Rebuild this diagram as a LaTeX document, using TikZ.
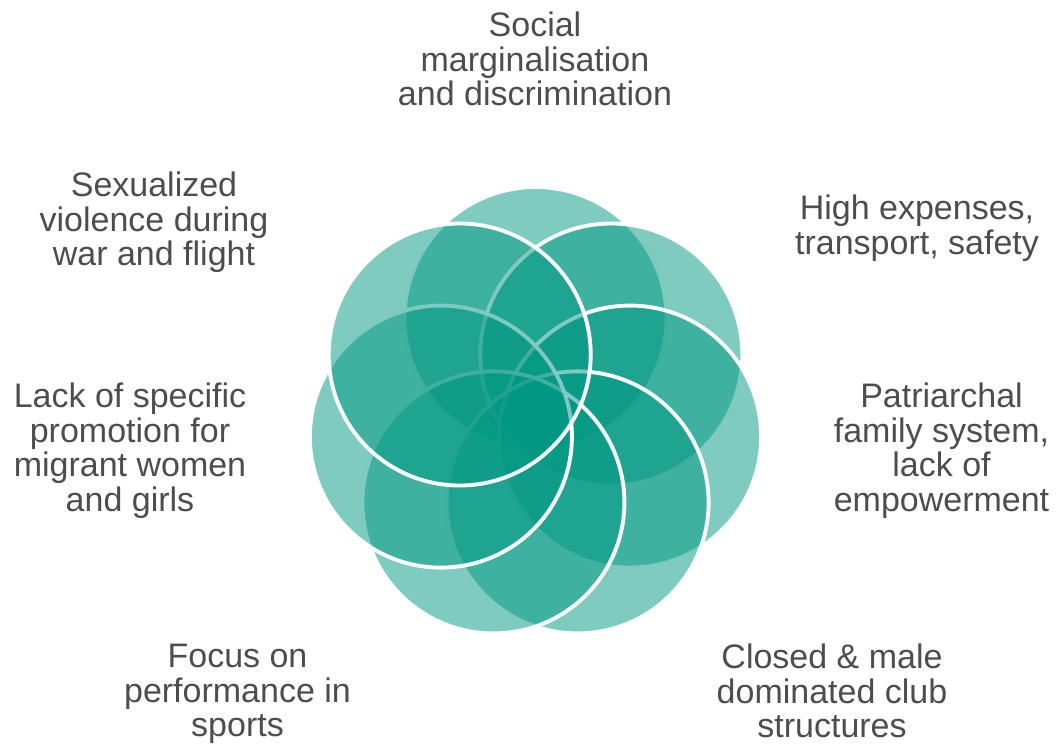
\documentclass[tikz,border=0pt]{standalone}
\usepackage{fontspec}
\setmainfont{Liberation Sans}
\definecolor{petalteal}{RGB}{0,151,130}
\definecolor{labelgray}{RGB}{77,77,77}
\tikzset{every picture/.style={line width=0.75pt}}
\tikzset{petal/.style={draw=white, line width=2.9pt, fill=petalteal, fill opacity=0.5, draw opacity=1},
  cause/.style={anchor=north, inner sep=0pt, align=center, text=labelgray, font=\fontsize{25.5}{26}\selectfont}}

\begin{document}
\begin{tikzpicture}[x=0.75pt,y=0.75pt,yscale=-1,xscale=1]
\useasboundingbox (0,0) rectangle (1056,748); %diagram is 1056 wide and 748 high

% Shape: Circle
\draw [petal] (535.5,318) circle [x radius= 131, y radius= 131]   ;
% Shape: Circle
\draw [petal] (611.3,354.5) circle [x radius= 131, y radius= 131]   ;
% Shape: Circle
\draw [petal] (630.1,436.6) circle [x radius= 131, y radius= 131]   ;
% Shape: Circle
\draw [petal] (577.6,502.4) circle [x radius= 131, y radius= 131]   ;
% Shape: Circle
\draw [petal] (493.4,502.4) circle [x radius= 131, y radius= 131]   ;
% Shape: Circle
\draw [petal] (440.9,436.6) circle [x radius= 131, y radius= 131]   ;
% Shape: Circle
\draw [petal] (459.7,354.5) circle [x radius= 131, y radius= 131]   ;

% Text Node
\node [cause] (social) at (535,11.5) {Social\\marginalisation\\and discrimination};
% Text Node
\node [cause] (expenses) at (917,194.5) {High expenses,\\transport, safety};
% Text Node
\node [cause] (patriarchal) at (941.5,382.5) {Patriarchal\\family system,\\lack of\\empowerment};
% Text Node
\node [cause] (closed) at (832,643.5) {Closed \& male\\dominated club\\structures};
% Text Node
\node [cause] (focus) at (237.5,643.5) {Focus on\\performance in\\sports};
% Text Node
\node [cause] (promotion) at (130,382.5) {Lack of specific\\promotion for\\migrant women\\and girls};
% Text Node
\node [cause] (violence) at (154,171.5) {Sexualized\\violence during\\war and flight};

\end{tikzpicture}
\end{document}
